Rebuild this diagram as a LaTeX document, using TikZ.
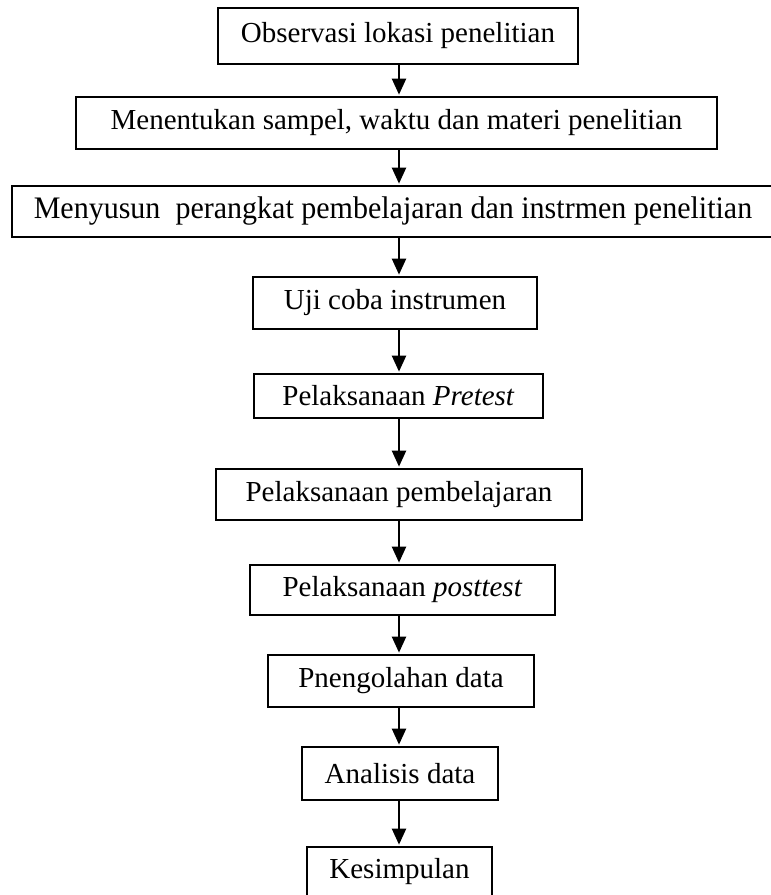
\documentclass[tikz,border=0pt]{standalone}
\usepackage{fontspec}
\setmainfont{Liberation Serif}
\usetikzlibrary{arrows.meta,positioning}

\tikzset{
  kotak/.style={draw, line width=1.7pt, inner sep=0pt, align=center,
    font=\fontsize{29}{34}\selectfont},
  panah/.style={line width=2.2pt, -{Triangle[width=14pt,length=16pt]}}
}

\begin{document}
\begin{tikzpicture}[x=1pt,y=-1pt]
\useasboundingbox (0,0) rectangle (771,895);
\coordinate (poros) at (399,0);

\node[kotak, minimum width=360, minimum height=56] (observasi) at (398,36) {Observasi lokasi penelitian};
\node[kotak, minimum width=641, minimum height=52] (sampel) at (396.5,123) {Menentukan sampel, waktu dan materi penelitian};
\node[kotak, minimum width=772, minimum height=51] (menyusun) at (398,211.5) {\hspace*{-10pt}\scalebox{1.035}[1.08]{Menyusun\ \ perangkat pembelajaran dan instrmen penelitian}};
\node[kotak, minimum width=284, minimum height=52] (ujicoba) at (395,303) {Uji coba instrumen};
\node[kotak, minimum width=289, minimum height=44] (pretest) at (398.5,396) {Pelaksanaan \textit{Pretest}};
\node[kotak, minimum width=366, minimum height=51] (belajar) at (399,494.5) {Pelaksanaan pembelajaran};
\node[kotak, minimum width=305, minimum height=50] (posttest) at (402.5,590) {Pelaksanaan \textit{posttest}};
\node[kotak, minimum width=266, minimum height=52] (olah) at (401,681) {Pnengolahan data};
\node[kotak, minimum width=196, minimum height=53] (analisis) at (400,773.5) {Analisis data};
\node[kotak, minimum width=185, minimum height=50] (simpul) at (399.5,872) {Kesimpulan};

% panah antar langkah
\foreach \a/\b in {observasi/sampel, sampel/menyusun, menyusun/ujicoba, ujicoba/pretest,
  pretest/belajar, belajar/posttest, posttest/olah, olah/analisis, analisis/simpul}
  \draw[panah] (\a.south -| poros) -- ([yshift=1.5pt]\b.north -| poros);
\end{tikzpicture}
\end{document}
